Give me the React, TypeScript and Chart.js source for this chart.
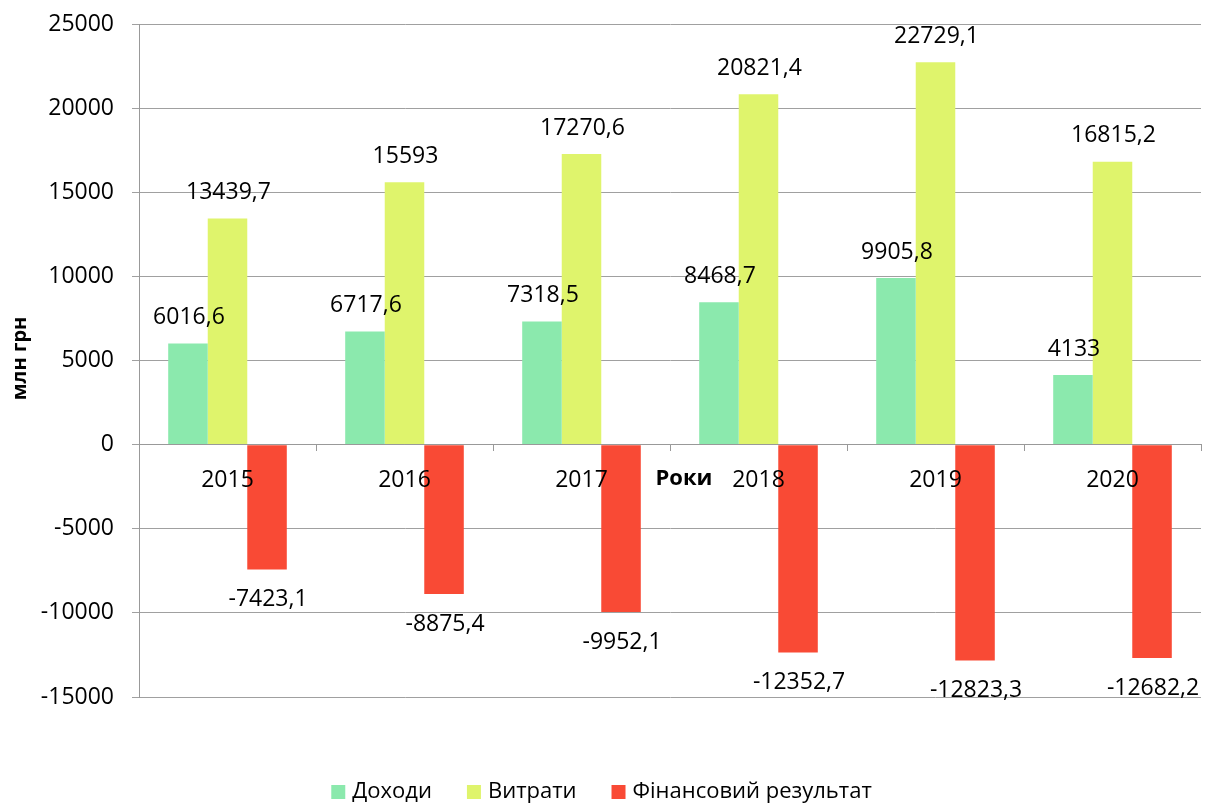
import React, { useEffect, useRef } from 'react';
import { Chart, registerables } from 'chart.js';

Chart.register(...registerables);

const categories = ['2015', '2016', '2017', '2018', '2019', '2020'];
const incomes = [6016.6, 6717.6, 7318.5, 8468.7, 9905.8, 4133];
const expenses = [13439.7, 15593, 17270.6, 20821.4, 22729.1, 16815.2];
const results = [-7423.1, -8875.4, -9952.1, -12352.7, -12823.3, -12682.2];
const seriesNames = ['Доходи', 'Витрати', 'Фінансовий результат'];
const seriesColors = ['#8be9ad', '#dff46c', '#f94a35'];
const yMin = -15000;
const yMax = 25000;
const yStep = 5000;
const xTitle = 'Роки';
const yTitle = 'млн грн';

const FONT = '"Open Sans", "Noto Sans", sans-serif';
const fmt = (v: number) => String(v).replace('.', ',');

const overlayPlugin = {
  id: 'overlay',
  afterDraw(chart: any) {
    const ctx = chart.ctx;
    const area = chart.chartArea;
    ctx.save();
    // data labels
    ctx.font = `23px ${FONT}`;
    ctx.fillStyle = '#000';
    ctx.textAlign = 'center';
    ctx.textBaseline = 'middle';
    chart.data.datasets.forEach((ds: any, di: number) => {
      const meta = chart.getDatasetMeta(di);
      meta.data.forEach((bar: any, i: number) => {
        const v = ds.data[i];
        const y = v >= 0 ? bar.y - 26 : bar.y + 30;
        ctx.fillText(fmt(v), bar.x + 1, y);
      });
    });
    // x title
    const y0 = chart.scales.y.getPixelForValue(0);
    ctx.font = `bold 22px ${FONT}`;
    ctx.fillText(xTitle, 684, y0 + 34);
    // y title
    ctx.save();
    ctx.translate(20, (area.top + area.bottom) / 2 - 2);
    ctx.rotate(-Math.PI / 2);
    ctx.font = `bold 20px ${FONT}`;
    ctx.fillText(yTitle, 0, 0);
    ctx.restore();
    // legend
    ctx.font = `22px ${FONT}`;
    ctx.textAlign = 'left';
    const box = 14;
    const gapBox = 7;
    const gapItem = 35;
    const widths = seriesNames.map((n) => ctx.measureText(n).width);
    const total = widths.reduce((a, w) => a + box + gapBox + w, 0) + gapItem * (seriesNames.length - 1);
    let x = 601.5 - total / 2;
    const ly = 792;
    seriesNames.forEach((n, i) => {
      ctx.fillStyle = seriesColors[i];
      ctx.fillRect(x, ly - box / 2, box, box);
      ctx.fillStyle = '#000';
      ctx.fillText(n, x + box + gapBox, ly);
      x += box + gapBox + widths[i] + gapItem;
    });
    ctx.restore();
  },
};

export default function App() {
  const ref = useRef<HTMLCanvasElement | null>(null);
  useEffect(() => {
    if (!ref.current) return;
    const chart = new Chart(ref.current, {
      type: 'bar',
      data: {
        labels: categories,
        datasets: [
          { label: seriesNames[0], data: incomes, backgroundColor: seriesColors[0] },
          { label: seriesNames[1], data: expenses, backgroundColor: seriesColors[1] },
          { label: seriesNames[2], data: results, backgroundColor: seriesColors[2] },
        ],
      },
      options: {
        responsive: false,
        animation: false,
        layout: { padding: { left: 0, top: 24, right: 4, bottom: 106 } },
        datasets: { bar: { categoryPercentage: 0.67, barPercentage: 1 } },
        plugins: { legend: { display: false }, tooltip: { enabled: false } },
        scales: {
          x: {
            position: { y: 0 },
            grid: { offset: true, drawOnChartArea: false, drawTicks: true, tickLength: 6, color: '#999' },
            border: { color: '#999', width: 1, z: 1 },
            ticks: { z: 1, color: '#000', font: { family: FONT, size: 23 }, padding: 16, maxRotation: 0 },
          },
          y: {
            min: yMin,
            max: yMax,
            afterFit: (s: any) => {
              s.width = 139;
              s.paddingTop = 0;
              s.paddingBottom = 0;
            },
            grid: { color: '#a0a0a0', tickLength: 7 },
            border: { color: '#999', width: 1 },
            ticks: {
              stepSize: yStep,
              color: '#000',
              padding: 18,
              font: { family: FONT, size: 23 },
              callback: (v: any) => String(v),
            },
          },
        },
      },
      plugins: [overlayPlugin],
    });
    return () => chart.destroy();
  }, []);
  return (
    <div style={{ position: 'fixed', left: 0, top: 0, width: 1205, height: 803, background: '#fff' }}>
      <canvas ref={ref} width={1205} height={803} style={{ display: 'block' }} />
    </div>
  );
}
